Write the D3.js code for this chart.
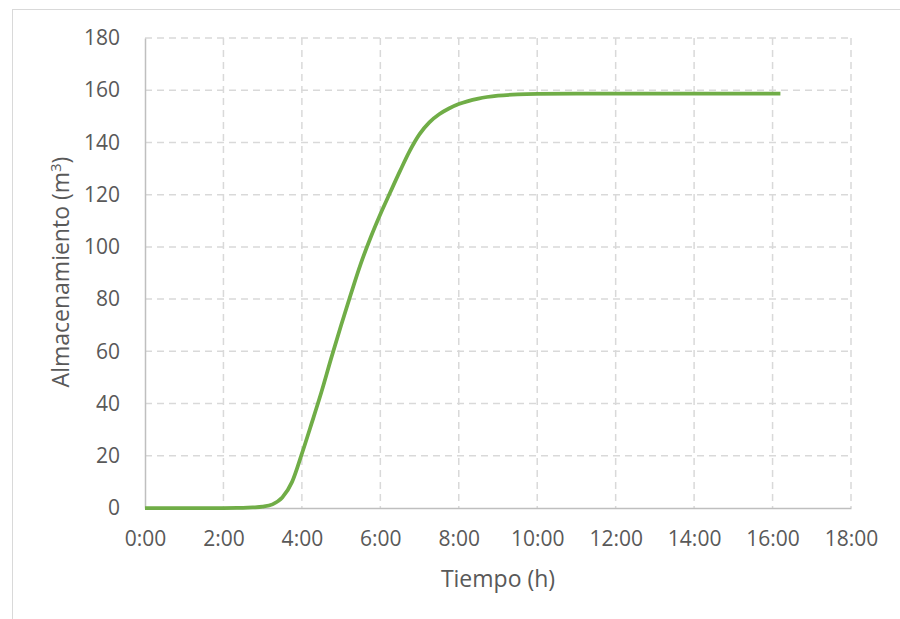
<!DOCTYPE html>
<html lang="es">
<head>
<meta charset="UTF-8">
<style>
  body { margin: 0; background: #fff; }
  svg { display: block; }
  .grid line { stroke: #d9d9d9; stroke-width: 1.5; stroke-dasharray: 7,5; }
</style>
</head>
<body>
<script src="https://cdn.jsdelivr.net/npm/d3@7"></script>
<script>
// tiempo (h) y almacenamiento (m3)
var horas = [0, 1, 2, 2.5, 2.75, 3, 3.25, 3.5, 3.75, 4, 4.25, 4.5, 4.75, 5, 5.25, 5.5, 5.75,
             6, 6.25, 6.5, 6.75, 7, 7.25, 7.5, 7.75, 8, 8.5, 9, 9.5, 10, 11, 12, 13, 14, 15, 16, 16.2];
var almacen = [0, 0, 0, 0.05, 0.2, 0.5, 1.4, 4, 10, 20.8, 32.5, 44.5, 57.5, 70, 82, 93.5, 103.5,
               112.5, 120.8, 129, 136.8, 143.2, 147.7, 150.8, 153, 154.7, 156.8, 157.9, 158.4, 158.6, 158.7, 158.7, 158.7, 158.7, 158.7, 158.7, 158.7];
var xTicks = [0, 2, 4, 6, 8, 10, 12, 14, 16, 18];
var yTicks = [0, 20, 40, 60, 80, 100, 120, 140, 160, 180];

var W = 900, H = 619;
var FONT = '"Open Sans", "Noto Sans", sans-serif';
var svg = d3.select('body').append('svg').attr('width', W).attr('height', H)
  .style('font-family', FONT);

// marco del grafico
svg.append('rect').attr('x', 12.5).attr('y', 9.5).attr('width', 900).attr('height', 700)
  .attr('fill', 'none').attr('stroke', '#d9d9d9');

var x = d3.scaleLinear().domain([0, 18]).range([145, 851]);
var y = d3.scaleLinear().domain([0, 180]).range([508, 38]);

// rejilla
var grid = svg.append('g').attr('class', 'grid');
grid.selectAll('.gy').data(yTicks.slice(1)).enter().append('line')
  .attr('x1', 145).attr('x2', 851)
  .attr('y1', function(d){ return y(d); }).attr('y2', function(d){ return y(d); });
grid.selectAll('.gx').data(xTicks.slice(1)).enter().append('line')
  .attr('y1', 38).attr('y2', 508)
  .attr('x1', function(d){ return x(d); }).attr('x2', function(d){ return x(d); });

// ejes
var fmt = function(d){ return d + ':00'; };
var gx = svg.append('g').attr('transform', 'translate(0,508)')
  .call(d3.axisBottom(x).tickValues(xTicks).tickFormat(fmt).tickSize(0).tickPadding(23));
var gy = svg.append('g').attr('transform', 'translate(145,0)')
  .call(d3.axisLeft(y).tickValues(yTicks).tickSize(0).tickPadding(25));
[gx, gy].forEach(function(g) {
  g.attr('font-family', FONT).attr('font-size', 21);
  g.selectAll('.tick text').attr('fill', '#595959');
  g.select('.domain').attr('stroke', '#bfbfbf').attr('stroke-width', 1.5);
});

// serie
var line = d3.line()
  .x(function(d, i){ return x(horas[i]); })
  .y(function(d){ return y(d); })
  .curve(d3.curveMonotoneX);
svg.append('path').datum(almacen)
  .attr('d', line)
  .attr('fill', 'none')
  .attr('stroke', '#70ad47')
  .attr('stroke-width', 3.75)
  .attr('stroke-linejoin', 'round');

// titulos
svg.append('text').attr('x', 498).attr('y', 587)
  .attr('text-anchor', 'middle').attr('fill', '#595959').style('font-size', '23px')
  .text('Tiempo (h)');
var yt = svg.append('text').attr('transform', 'translate(69,272) rotate(-90)')
  .attr('text-anchor', 'middle').attr('fill', '#595959').style('font-size', '23px');
yt.append('tspan').text('Almacenamiento (m');
yt.append('tspan').attr('dy', -8).style('font-size', '15px').text('3');
yt.append('tspan').attr('dy', 8).text(')');
</script>
</body>
</html>
